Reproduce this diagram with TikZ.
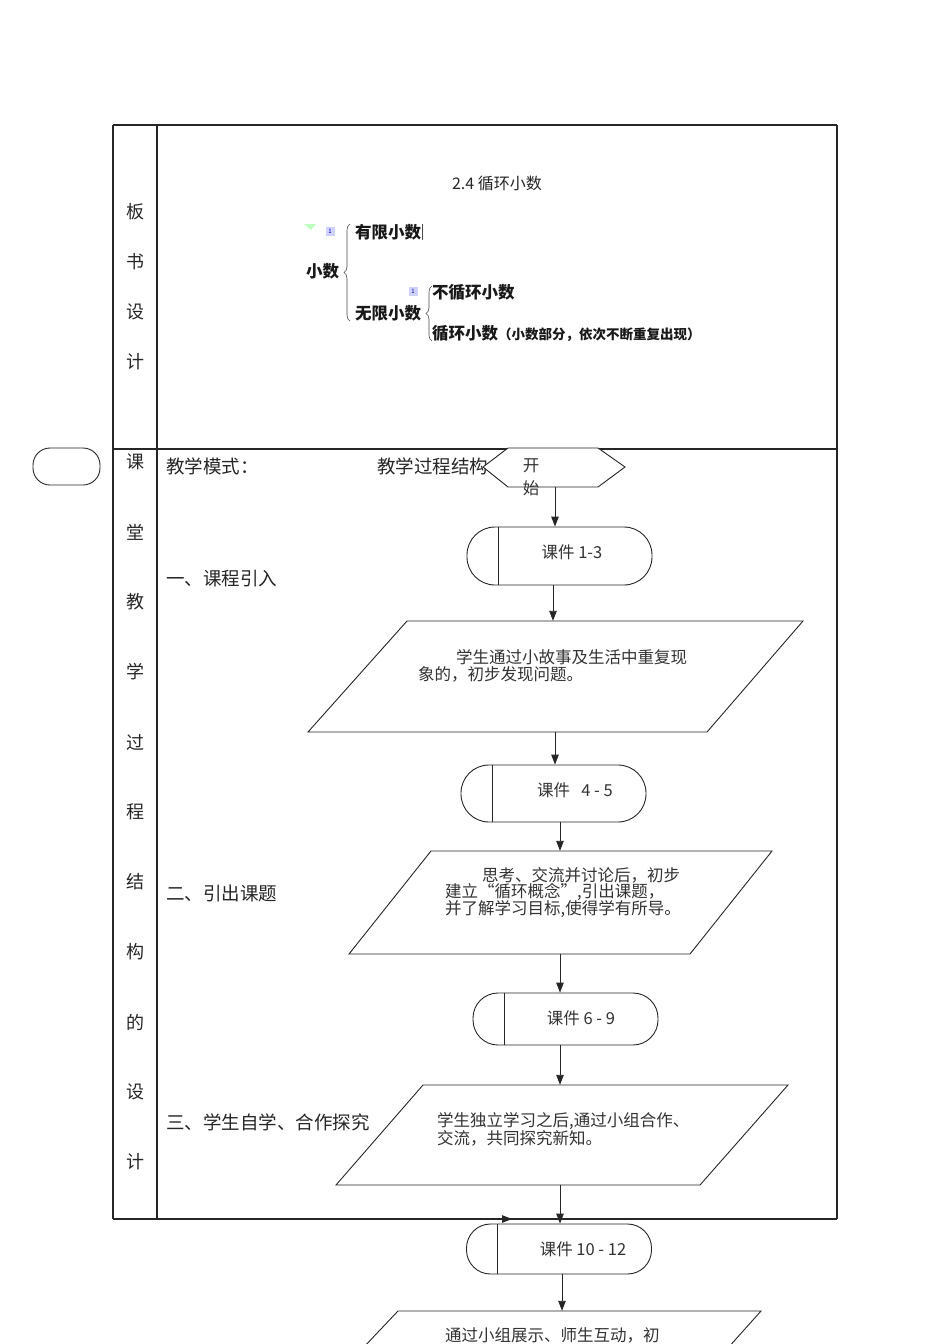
\documentclass[tikz,border=0pt]{standalone}
\usepackage{fontspec}
\setmainfont{Noto Sans CJK SC}
\usetikzlibrary{arrows.meta,decorations.pathreplacing}
\begin{document}
\begin{tikzpicture}[x=1pt,y=-1pt,
  tbl/.style={line width=1.2pt,black!85},
  flow/.style={line width=0.9pt,black!85},
  arr/.style={flow,-{Triangle[length=10pt,width=7.5pt]}},
  term/.style={draw,flow,rectangle,fill=white,minimum width=185pt,inner sep=0pt},
  hold/.style={rectangle,inner sep=0pt,draw=none},
  lc/.style={inner sep=0pt,font=\fontsize{18}{20}\selectfont,black!85},
  stage/.style={inner sep=0pt,anchor=west,font=\fontsize{18.5}{20}\selectfont,black!85},
  ft/.style={inner sep=0pt,anchor=west,font=\fontsize{16.5}{19}\selectfont,black!80},
  bt/.style={inner sep=0pt,anchor=west,font=\fontsize{16.5}{19}\selectfont\bfseries,black!90},
  numbox/.style={rectangle,fill=blue!18,inner sep=0pt,minimum width=9pt,minimum height=9pt,font=\fontsize{6}{6}\selectfont,text=blue!60!black},
  brc/.style={decorate,decoration={brace,amplitude=6pt},line width=0.6pt,black!70}
]
\useasboundingbox[fill=white] (0,0) rectangle (950,1344);

% ---- table ----
\draw[tbl] (113,125) -- (837,125);
\draw[tbl] (113,449) -- (837,449);
\draw[tbl] (113,1219) -- (837,1219);
\draw[tbl] (113,125) -- (113,1219);
\draw[tbl] (157,125) -- (157,1219);
\draw[tbl] (837,125) -- (837,1219);

% left column texts
\node[lc] (c1) at (135,212) {板};
\node[lc] (c2) at (135,262) {书};
\node[lc] (c3) at (135,312) {设};
\node[lc] (c4) at (135,362) {计};
\node[lc] (d1) at (135,462) {课};
\node[lc] (d2) at (135,532) {堂};
\node[lc] (d3) at (135,602) {教};
\node[lc] (d4) at (135,672) {学};
\node[lc] (d5) at (135,742) {过};
\node[lc] (d6) at (135,812) {程};
\node[lc] (d7) at (135,882) {结};
\node[lc] (d8) at (135,952) {构};
\node[lc] (d9) at (135,1022) {的};
\node[lc] (d10) at (135,1092) {设};
\node[lc] (d11) at (135,1162) {计};

% outside rounded box
\node[draw,flow,rectangle,minimum width=67pt,minimum height=37pt,rounded corners=17pt] (side) at (66.5,466.5) {};

% ---- board design ----
\node[inner sep=0pt,font=\fontsize{16}{18}\selectfont,black!85] (title) at (497,183) {2.4 循环小数};
\fill[green!25] (304,224) -- (316,224) -- (311,230) -- cycle;
\node[numbox] (n1) at (330,231) {1};
\node[numbox] (n2) at (413,291) {1};
\node[bt] (xs) at (306,271) {小数};
\draw[brc] (350,321) -- (350,224);
\node[bt] (yx) at (355,232) {有限小数};
\draw[line width=0.5pt,black!70] (422,224) -- (422,240);
\node[bt] (wx) at (355,313) {无限小数};
\draw[brc] (432,341) -- (432,286);
\node[bt] (bx) at (432,292) {不循环小数};
\node[bt] (xh) at (432,333) {循环小数{\fontsize{13.5}{15}\selectfont（小数部分，依次不断重复出现）}};

% ---- lesson process ----
\node[stage] (mode) at (166,466) {教学模式：};
\node[stage] (struct) at (377,466) {教学过程结构};
\node[stage] (s1) at (166,579) {一、课程引入};
\node[stage] (s2) at (166,893) {二、引出课题};
\node[stage] (s3) at (166,1122) {三、学生自学、合作探究};

% start hexagon
\node[hold,minimum width=142pt,minimum height=39pt] (start) at (554,467.5) {};
\draw[flow,fill=white] (483,467) -- (508,448) -- (598,448) -- (625,467) -- (598,487) -- (508,487) -- cycle;
\node[ft,anchor=center] (kai) at (531,466) {开};
\node[ft,anchor=center] (shi) at (531,488) {始};

% terminal 1
\node[term,minimum height=58pt,rounded corners=28pt] (t1) at (559.5,556) {};
\draw[flow] (498,527) -- (498,585);
\node[ft,anchor=center] (t1l) at (572,552) {课件 1-3};

% parallelogram 1
\node[hold,minimum width=495pt,minimum height=111pt] (p1) at (555.5,676.5) {};
\draw[flow] (407,621) -- (803,621) -- (707,732) -- (308,732) -- cycle;
\node[ft] (p1a) at (456,657) {学生通过小故事及生活中重复现};
\node[ft] (p1b) at (418,674) {象的，初步发现问题。};

% terminal 2
\node[term,minimum height=57pt,rounded corners=28pt] (t2) at (553.5,793.5) {};
\draw[flow] (492,765) -- (492,822);
\node[ft,anchor=center] (t2l) at (575,790) {课件\ \ \ 4 - 5};

% parallelogram 2
\node[hold,minimum width=423pt,minimum height=103pt] (p2) at (560.5,902.5) {};
\draw[flow] (431,851) -- (772,851) -- (690,954) -- (349,954) -- cycle;
\node[ft] (p2a) at (482,875) {思考、交流并讨论后，初步};
\node[ft] (p2b) at (445,892) {建立“循环概念”,引出课题，};
\node[ft] (p2c) at (445,909) {并了解学习目标,使得学有所导。};

% terminal 3
\node[term,minimum height=52pt,rounded corners=25pt] (t3) at (565.5,1019) {};
\draw[flow] (504,993) -- (504,1045);
\node[ft,anchor=center] (t3l) at (581,1018) {课件 6 - 9};

% parallelogram 3
\node[hold,minimum width=452pt,minimum height=100pt] (p3) at (562,1135) {};
\draw[flow] (423,1085) -- (788,1085) -- (700,1185) -- (336,1185) -- cycle;
\node[ft] (p3a) at (437,1121) {学生独立学习之后,通过小组合作、};
\node[ft] (p3b) at (437,1138) {交流，共同探究新知。};

% terminal 4
\node[term,minimum height=50pt,rounded corners=24pt] (t4) at (559,1249) {};
\draw[flow] (497,1224) -- (497,1274);
\node[ft,anchor=center] (t4l) at (583,1249) {课件 10 - 12};

% parallelogram 4 (cut by page)
\node[hold,minimum width=363pt,minimum height=40pt] (p4) at (580,1331) {};
\draw[flow] (362,1349) -- (398,1311) -- (761,1311) -- (727,1349);
\node[ft] (p4a) at (445,1335) {通过小组展示、师生互动，初};

% ---- connectors ----
\coordinate (x0) at (555,0);
\coordinate (x1) at (553,0);
\coordinate (x2) at (555,0);
\coordinate (x3) at (560,0);
\coordinate (x4) at (560,0);
\coordinate (x5) at (560,0);
\coordinate (x6) at (562,0);
\draw[arr] (x0 |- start.south) -- (x0 |- t1.north);
\draw[arr] (x1 |- t1.south) -- (x1 |- p1.north);
\draw[arr] (x2 |- p1.south) -- (x2 |- t2.north);
\draw[arr] (x3 |- t2.south) -- (x3 |- p2.north);
\draw[arr] (x4 |- p2.south) -- (x4 |- t3.north);
\draw[arr] (x5 |- t3.south) -- (x5 |- p3.north);
\draw[arr] (x5 |- p3.south) -- (x5 |- t4.north);
\draw[arr] (x6 |- t4.south) -- (x6 |- p4.north);

% small arrow on table bottom line
\coordinate (ba) at (480,1219);
\coordinate (bb) at (512,1219);
\draw[arr] (ba) -- (bb);
\end{tikzpicture}
\end{document}
